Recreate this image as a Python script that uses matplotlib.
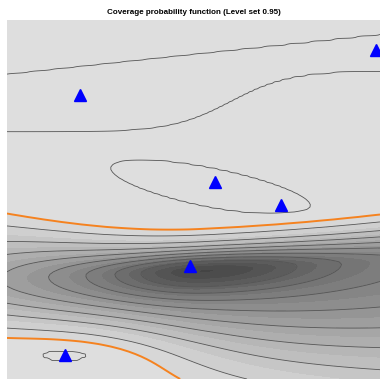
import numpy as np
import matplotlib.pyplot as plt

# sensor locations on the unit square (y pointing up)
sensor_x = [0.196, 0.989, 0.558, 0.735, 0.491, 0.155]
sensor_y = [0.791, 0.916, 0.549, 0.485, 0.315, 0.067]

line_levels = [0.1, 0.2, 0.3, 0.4, 0.5, 0.6, 0.7, 0.8, 0.9, 1.0]
level_set = 0.95
fill_levels = [0.0, 0.05, 0.1, 0.15, 0.2, 0.25, 0.3, 0.35, 0.4, 0.45, 0.5,
               0.55, 0.6, 0.65, 0.7, 0.75, 0.8, 0.85, 0.9, 0.95, 1.2]

# main coverage hole below the middle sensors
hole_u = 0.53
hole_v = (0.276, 0.05)            # centre line v = a + b*u
# deep core: depth, left / right spread, upper / lower spread
hole_core = (0.30, 0.17, 0.22, 0.033, 0.045)
# broad part: depth, left / right spread
hole_broad = (0.65, 0.55, 1.20)
hole_sup = (0.088, 0.050, 0.058)  # upper spread: left edge, centre, right edge
hole_slow = (0.095, 0.105)        # lower spread: a + b*u

# recovery around the bottom-left sensor
bump = (0.155, 0.039, 0.241, 0.082)           # u, v, su, sv

# regions where the estimate reaches 1
band_top = (0.847, 0.111)              # v = a + b*u
band_low = (0.69, 0.17, 0.60, 0.08)    # v = a + b/(1+exp(-(u-c)/d))
loop_c = (0.550, 0.532)
loop_r = (0.273, 0.051)
loop_tilt = -0.20
dot_c = (0.155, 0.067)
dot_r = (0.062, 0.015)


def gauss(x, s):
    return np.exp(-0.5 * (x / s) ** 2)


def inside(r, k=45.0):
    return 1.0 / (1.0 + np.exp(k * (r - 1.0)))


def coverage(U, V):
    du = U - hole_u
    left = du < 0
    dv = V - (hole_v[0] + hole_v[1] * U)
    above = dv > 0

    core = (hole_core[0] * gauss(du, np.where(left, hole_core[1], hole_core[2]))
            * gauss(dv, np.where(above, hole_core[3], hole_core[4])))

    s_up = np.where(left,
                    hole_sup[1] + (hole_sup[0] - hole_sup[1]) * (du / 0.53) ** 2,
                    hole_sup[1] + (hole_sup[2] - hole_sup[1]) * (du / 0.47) ** 2)
    s_low = hole_slow[0] + hole_slow[1] * U
    broad = (hole_broad[0] * gauss(du, np.where(left, hole_broad[1], hole_broad[2]))
             * gauss(dv, np.where(above, s_up, s_low)))

    B = gauss(U - bump[0], bump[2]) * gauss(V - bump[1], bump[3])

    # plateau at 1
    top = band_top[0] + band_top[1] * U
    low = band_low[0] + band_low[1] / (1 + np.exp(-(U - band_low[2]) / band_low[3]))
    p_band = inside(np.abs(V - 0.5 * (top + low)) / (0.5 * (top - low)))
    dx = U - loop_c[0]
    dy = (V - loop_c[1]) * 0.962
    a = dx * np.cos(loop_tilt) + dy * np.sin(loop_tilt)
    b = -dx * np.sin(loop_tilt) + dy * np.cos(loop_tilt)
    p_loop = inside(np.sqrt((a / loop_r[0]) ** 2 + (b / loop_r[1]) ** 2))
    p_dot = inside(np.sqrt(((U - dot_c[0]) / dot_r[0]) ** 2 + ((V - dot_c[1]) / dot_r[1]) ** 2))
    P = np.maximum(np.maximum(p_band, p_loop), p_dot)

    return 1.0 - (core + broad) * (1.0 - B) + 0.015 * P - 0.005


u = np.linspace(0, 1, 150)
v = np.linspace(0, 1, 145)
U, V = np.meshgrid(u, v)
Z = coverage(U, V)

fill_colors = [str(0.25 + 0.64 * (lo + 0.025)) for lo in fill_levels[:-2]] + ['#dedede']

fig = plt.figure(figsize=(3.8, 3.79), dpi=100)
ax = fig.add_axes([7 / 380, 0, 373 / 380, 359 / 379])
ax.contourf(U, V, Z, levels=fill_levels, colors=fill_colors)
ax.contour(U, V, Z, levels=line_levels, colors='#555555', linewidths=0.6)
ax.contour(U, V, Z, levels=[level_set], colors='#f5821f', linewidths=1.4)
ax.plot(sensor_x, sensor_y, '^', color='blue', markersize=9, clip_on=False)
ax.set_xlim(0, 1)
ax.set_ylim(0, 1)
ax.axis('off')

fig.text(0.51, 0.968, 'Coverage probability function (Level set 0.95)',
         ha='center', va='center', fontsize=5.8, fontweight='bold',
         family='Liberation Sans')

fig.savefig('out.png', dpi=100)
